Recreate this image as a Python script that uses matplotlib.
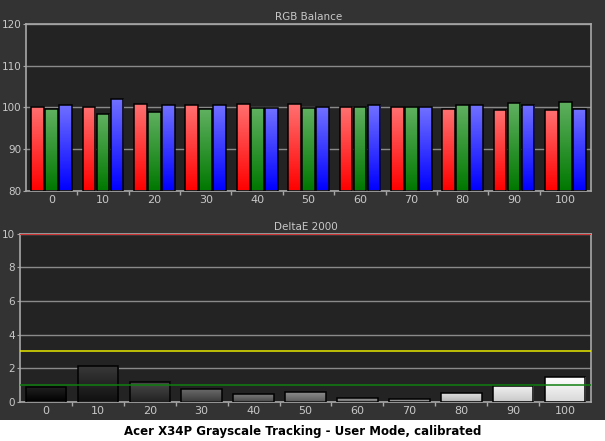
import numpy as np
import matplotlib
matplotlib.use("Agg")
import matplotlib.pyplot as plt
from matplotlib.colors import LinearSegmentedColormap
from matplotlib.patches import Rectangle

# Grayscale steps (%)
levels = ["0", "10", "20", "30", "40", "50", "60", "70", "80", "90", "100"]

# RGB balance per step
red = [100.2, 100.2, 100.7, 100.5, 100.9, 100.7, 100.0, 100.0, 99.5, 99.3, 99.3]
green = [99.5, 98.3, 99.0, 99.5, 99.8, 99.8, 100.0, 100.2, 100.5, 101.0, 101.4]
blue = [100.6, 101.9, 100.5, 100.5, 99.8, 100.0, 100.5, 100.0, 100.5, 100.5, 99.5]

# DeltaE 2000 per step
delta_e = [0.87, 2.1, 1.2, 0.74, 0.44, 0.58, 0.2, 0.14, 0.5, 0.91, 1.45]

# Reference thresholds
limit_lines = [(10, "#d03030"), (3, "#e8e800"), (1, "#108010")]

bg = "#333333"
plot_bg = "#232323"
text_col = "#c8c8c8"
grid_col = "#8a8a8a"
spine_col = "#a8a8a8"

# top/bottom colours for the bar gradients
rgb_grad = [("#ff7070", "#ff0000"), ("#60b060", "#007800"), ("#7070ff", "#0000ff")]
gray_tops = ["#202020", "#383838", "#4a4a4a", "#6a6a6a", "#7a7a7a", "#8c8c8c",
             "#9c9c9c", "#aaaaaa", "#e0e0e0", "#f0f0f0", "#ffffff"]
gray_bots = ["#000000", "#101010", "#222222", "#3a3a3a", "#4a4a4a", "#5c5c5c",
             "#6c6c6c", "#7a7a7a", "#b0b0b0", "#c8c8c8", "#d8d8d8"]


def gradient_bars(ax, bars, top, bottom):
    for p in bars:
        cmap = LinearSegmentedColormap.from_list("g", [bottom, top])
        x0, y0 = p.get_x(), p.get_y()
        w, h = p.get_width(), p.get_height()
        grad = np.linspace(0, 1, 64).reshape(-1, 1)
        im = ax.imshow(grad, cmap=cmap, origin="lower", aspect="auto",
                       extent=(x0, x0 + w, y0, y0 + h), zorder=2)
        im.set_clip_path(p)


def style_axes(ax, title):
    ax.set_facecolor(plot_bg)
    for s in ["left", "bottom", "right", "top"]:
        ax.spines[s].set_color(spine_col)
        ax.spines[s].set_linewidth(1.2)
    ax.tick_params(axis="y", colors=spine_col, labelcolor=text_col, labelsize=7.5,
                   length=2.5, pad=1)
    ax.tick_params(axis="x", which="minor", colors=spine_col, length=3, width=1)
    ax.tick_params(axis="x", which="major", length=0, labelcolor=text_col,
                   labelsize=8, pad=3)
    ax.set_xticks(range(len(levels)))
    ax.set_xticklabels(levels)
    ax.set_xticks(np.arange(0.5, len(levels) - 1, 1), minor=True)
    ax.set_xlim(-0.5, len(levels) - 0.5)
    ax.yaxis.grid(True, color=grid_col, linewidth=1)
    ax.set_axisbelow(True)
    ax.set_title(title, color=text_col, fontsize=7.5, pad=3)


fig = plt.figure(figsize=(6.05, 4.41), dpi=100, facecolor=bg)

# RGB Balance
ax1 = fig.add_axes([0.043, 0.567, 0.934, 0.379])
x = np.arange(len(levels))
off = 0.272
wid = 0.248
for vals, dx, (top, bot) in zip([red, green, blue], [-off, 0, off], rgb_grad):
    bars = ax1.bar(x + dx, np.array(vals) - 80, wid, bottom=80, facecolor="none",
                   edgecolor="black", linewidth=1.1, zorder=3)
    gradient_bars(ax1, bars, top, bot)
ax1.set_ylim(80, 120)
ax1.set_yticks([80, 90, 100, 110, 120])
style_axes(ax1, "RGB Balance")

# DeltaE 2000
ax2 = fig.add_axes([0.033, 0.089, 0.944, 0.381])
bars = ax2.bar(x, delta_e, 0.78, facecolor="none", edgecolor="black",
               linewidth=1.1, zorder=3)
for p, t, b in zip(bars, gray_tops, gray_bots):
    gradient_bars(ax2, [p], t, b)
ax2.set_ylim(0, 10)
ax2.set_yticks([0, 2, 4, 6, 8, 10])
style_axes(ax2, "DeltaE 2000")
for yv, c in limit_lines:
    ax2.axhline(yv, color=c, linewidth=1.4 if yv == 10 else 1.1, zorder=4)

# caption band
fig.patches.append(Rectangle((0, 0), 1, 21 / 441, transform=fig.transFigure,
                             facecolor="white", edgecolor="none", zorder=0))
fig.text(0.5, 10 / 441, "Acer X34P Grayscale Tracking - User Mode, calibrated",
         ha="center", va="center", fontsize=8.5, fontweight="bold", color="black")

fig.savefig("out.png", dpi=100, facecolor=bg)
